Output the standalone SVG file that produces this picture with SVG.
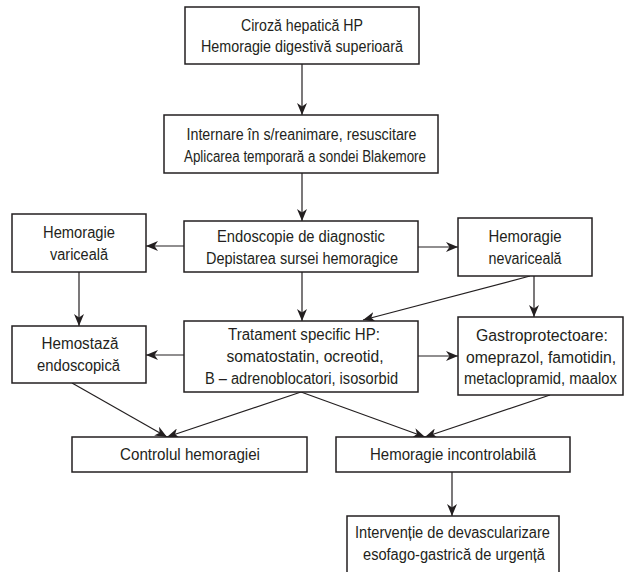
<svg xmlns="http://www.w3.org/2000/svg" width="629" height="572" viewBox="0 0 629 572">
<style>
.box{fill:#fff;stroke:#231f20;stroke-width:1.5}
.t{font-family:"Liberation Sans",Arial,sans-serif;font-size:16px;fill:#231f20;text-anchor:middle}
.c{stroke:#231f20;stroke-width:1.2;fill:none;marker-end:url(#ah)}
</style>
<defs>
<marker id="ah" markerUnits="userSpaceOnUse" viewBox="0 0 12 10" refX="12" refY="5" markerWidth="12" markerHeight="10" orient="auto">
<path d="M0,0 L12,5 L0,10 L3.5,5 z" fill="#231f20"/>
</marker>
</defs>
<rect width="629" height="572" fill="#fff"/>
<g id="connectors">
<line class="c" x1="302" y1="64" x2="302" y2="115"/>
<line class="c" x1="302" y1="173" x2="302" y2="221"/>
<line class="c" x1="184" y1="246" x2="146" y2="246"/>
<line class="c" x1="418" y1="247" x2="458" y2="247"/>
<line class="c" x1="302" y1="272" x2="302" y2="321"/>
<line class="c" x1="79" y1="272" x2="79" y2="326"/>
<line class="c" x1="534" y1="276" x2="534" y2="317"/>
<line class="c" x1="530" y1="276" x2="363" y2="320"/>
<line class="c" x1="184" y1="355" x2="146" y2="355"/>
<line class="c" x1="418" y1="356" x2="458" y2="356"/>
<line class="c" x1="72" y1="383" x2="167" y2="437"/>
<line class="c" x1="301" y1="392" x2="167" y2="437"/>
<line class="c" x1="301" y1="392" x2="425" y2="437"/>
<line class="c" x1="550" y1="395" x2="425" y2="437"/>
<line class="c" x1="452" y1="472" x2="452" y2="516"/>
</g>
<g id="n1"><rect class="box" x="185" y="7" width="234" height="57"/>
<text class="t" x="302" y="30.5" textLength="122" lengthAdjust="spacingAndGlyphs">Ciroză hepatică HP</text><text class="t" x="302" y="52" textLength="202" lengthAdjust="spacingAndGlyphs">Hemoragie digestivă superioară</text></g>
<g id="n2"><rect class="box" x="164" y="115" width="274" height="58"/>
<text class="t" x="301.5" y="140" textLength="230" lengthAdjust="spacingAndGlyphs">Internare în s/reanimare, resuscitare</text><text class="t" x="305" y="162" textLength="242" lengthAdjust="spacingAndGlyphs">Aplicarea temporară a sondei Blakemore</text></g>
<g id="n3"><rect class="box" x="12" y="214" width="134" height="58"/>
<text class="t" x="79" y="238" textLength="72" lengthAdjust="spacingAndGlyphs">Hemoragie</text><text class="t" x="79" y="260" textLength="58" lengthAdjust="spacingAndGlyphs">variceală</text></g>
<g id="n4"><rect class="box" x="184" y="221" width="234" height="51"/>
<text class="t" x="301" y="242" textLength="168" lengthAdjust="spacingAndGlyphs">Endoscopie de diagnostic</text><text class="t" x="302" y="264" textLength="192" lengthAdjust="spacingAndGlyphs">Depistarea sursei hemoragice</text></g>
<g id="n5"><rect class="box" x="458" y="218" width="134" height="58"/>
<text class="t" x="525" y="242" textLength="73" lengthAdjust="spacingAndGlyphs">Hemoragie</text><text class="t" x="525" y="264" textLength="73" lengthAdjust="spacingAndGlyphs">nevariceală</text></g>
<g id="n6"><rect class="box" x="12" y="326" width="134" height="57"/>
<text class="t" x="80" y="349" textLength="77" lengthAdjust="spacingAndGlyphs">Hemostază</text><text class="t" x="78.5" y="371" textLength="83" lengthAdjust="spacingAndGlyphs">endoscopică</text></g>
<g id="n7"><rect class="box" x="184" y="321" width="234" height="71"/>
<text class="t" x="304" y="340" textLength="152" lengthAdjust="spacingAndGlyphs">Tratament specific HP:</text><text class="t" x="305" y="362" textLength="157" lengthAdjust="spacingAndGlyphs">somatostatin, ocreotid,</text><text class="t" x="301.5" y="383.5" textLength="193" lengthAdjust="spacingAndGlyphs">B – adrenoblocatori, isosorbid</text></g>
<g id="n8"><rect class="box" x="458" y="317" width="165" height="78"/>
<text class="t" x="542" y="341" textLength="132" lengthAdjust="spacingAndGlyphs">Gastroprotectoare:</text><text class="t" x="541" y="362.5" textLength="150" lengthAdjust="spacingAndGlyphs">omeprazol, famotidin,</text><text class="t" x="540.5" y="384" textLength="153" lengthAdjust="spacingAndGlyphs">metaclopramid, maalox</text></g>
<g id="n9"><rect class="box" x="72" y="437" width="235" height="35"/>
<text class="t" x="190" y="460" textLength="140" lengthAdjust="spacingAndGlyphs">Controlul hemoragiei</text></g>
<g id="n10"><rect class="box" x="336" y="437" width="234" height="35"/>
<text class="t" x="453" y="460" textLength="166" lengthAdjust="spacingAndGlyphs">Hemoragie incontrolabilă</text></g>
<g id="n11"><rect class="box" x="347" y="516" width="212" height="62"/>
<text class="t" x="452.5" y="538" textLength="195" lengthAdjust="spacingAndGlyphs">Intervenție de devascularizare</text><text class="t" x="454" y="560" textLength="182" lengthAdjust="spacingAndGlyphs">esofago-gastrică de urgență</text></g>
</svg>
